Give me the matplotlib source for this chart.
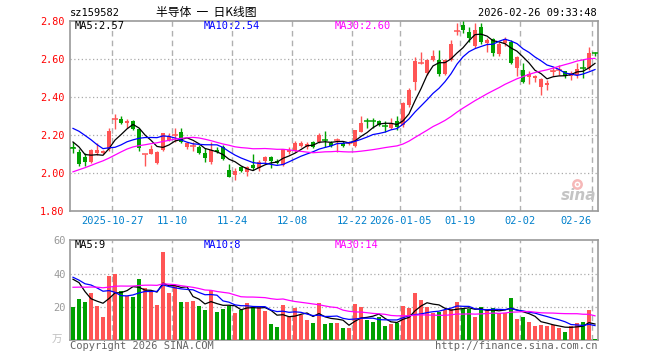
import numpy as np
import pandas as pd
import matplotlib
matplotlib.use('Agg')
import matplotlib.pyplot as plt
from matplotlib.transforms import blended_transform_factory

# daily OHLC, 2025-10-16 .. 2026-02-26 (88 trading days)
opens = [2.136, 2.114, 2.087, 2.061, 2.105, 2.108, 2.126, 2.284, 2.286, 2.263,
         2.275, 2.231, 2.099, 2.102, 2.056, 2.123, 2.175, 2.201, 2.219, 2.137,
         2.144, 2.140, 2.105, 2.058, 2.123, 2.140, 2.017, 1.991, 2.031, 2.005,
         2.044, 2.030, 2.065, 2.087, 2.065, 2.044, 2.111, 2.119, 2.145, 2.140,
         2.163, 2.163, 2.176, 2.161, 2.174, 2.161, 2.159, 2.144, 2.220, 2.275,
         2.275, 2.274, 2.248, 2.238, 2.274, 2.256, 2.361, 2.479, 2.580, 2.528,
         2.595, 2.595, 2.524, 2.595, 2.749, 2.780, 2.745, 2.672, 2.772, 2.687,
         2.705, 2.630, 2.684, 2.693, 2.553, 2.544, 2.508, 2.500, 2.453, 2.465,
         2.534, 2.543, 2.538, 2.512, 2.517, 2.554, 2.553, 2.633]
closes = [2.134, 2.049, 2.061, 2.123, 2.123, 2.118, 2.224, 2.286, 2.266, 2.275,
          2.235, 2.131, 2.101, 2.126, 2.114, 2.210, 2.196, 2.203, 2.166, 2.158,
          2.146, 2.105, 2.079, 2.123, 2.111, 2.075, 1.982, 2.014, 2.014, 2.035,
          2.026, 2.061, 2.087, 2.065, 2.055, 2.126, 2.123, 2.161, 2.161, 2.154,
          2.140, 2.200, 2.175, 2.145, 2.175, 2.144, 2.160, 2.228, 2.265, 2.274,
          2.274, 2.256, 2.247, 2.265, 2.242, 2.370, 2.440, 2.593, 2.582, 2.595,
          2.616, 2.524, 2.595, 2.680, 2.751, 2.754, 2.710, 2.754, 2.693, 2.700,
          2.632, 2.680, 2.705, 2.582, 2.614, 2.482, 2.522, 2.510, 2.495, 2.477,
          2.536, 2.545, 2.514, 2.526, 2.547, 2.553, 2.635, 2.632]
highs = [2.166, 2.126, 2.105, 2.130, 2.158, 2.125, 2.237, 2.312, 2.300, 2.286,
         2.280, 2.240, 2.102, 2.149, 2.120, 2.213, 2.213, 2.237, 2.237, 2.165,
         2.163, 2.150, 2.132, 2.166, 2.140, 2.150, 2.050, 2.026, 2.040, 2.040,
         2.100, 2.070, 2.090, 2.090, 2.075, 2.130, 2.140, 2.170, 2.170, 2.166,
         2.170, 2.210, 2.223, 2.170, 2.186, 2.170, 2.170, 2.230, 2.300, 2.290,
         2.290, 2.280, 2.274, 2.290, 2.300, 2.375, 2.450, 2.610, 2.640, 2.600,
         2.650, 2.650, 2.600, 2.700, 2.790, 2.800, 2.770, 2.790, 2.790, 2.710,
         2.710, 2.690, 2.720, 2.700, 2.620, 2.580, 2.540, 2.520, 2.500, 2.490,
         2.560, 2.570, 2.540, 2.540, 2.580, 2.600, 2.666, 2.640]
lows = [2.105, 2.040, 2.040, 2.055, 2.096, 2.100, 2.120, 2.233, 2.260, 2.237,
        2.230, 2.120, 2.040, 2.100, 2.050, 2.115, 2.170, 2.166, 2.160, 2.130,
        2.117, 2.100, 2.061, 2.050, 2.105, 2.070, 1.978, 1.965, 2.005, 1.985,
        2.020, 2.010, 2.050, 2.030, 2.050, 2.040, 2.100, 2.110, 2.140, 2.130,
        2.135, 2.160, 2.140, 2.140, 2.114, 2.140, 2.150, 2.140, 2.215, 2.240,
        2.240, 2.250, 2.220, 2.235, 2.230, 2.245, 2.350, 2.440, 2.575, 2.520,
        2.590, 2.510, 2.520, 2.590, 2.730, 2.740, 2.690, 2.660, 2.680, 2.640,
        2.620, 2.620, 2.670, 2.575, 2.510, 2.475, 2.470, 2.480, 2.410, 2.440,
        2.510, 2.520, 2.500, 2.490, 2.500, 2.500, 2.545, 2.615]
# volume (万手)
vols = [20.2, 24.8, 23.2, 28.6, 20.6, 14.0, 38.8, 40.0, 29.6, 26.6,
        26.0, 36.8, 31.6, 29.0, 21.2, 53.0, 28.6, 32.6, 23.2, 23.2,
        23.8, 20.6, 18.2, 30.2, 17.2, 18.8, 20.8, 16.6, 18.2, 22.6,
        19.8, 19.8, 17.8, 9.8, 8.2, 21.2, 13.8, 19.6, 15.2, 12.2,
        10.6, 22.6, 9.8, 10.4, 10.2, 7.4, 7.4, 21.8, 20.0, 12.2,
        11.0, 13.8, 8.6, 9.8, 10.2, 20.6, 19.4, 28.4, 24.2, 20.0,
        16.6, 17.0, 18.2, 18.5, 23.0, 18.6, 19.0, 14.0, 20.0, 18.2,
        19.6, 16.6, 16.6, 25.4, 12.8, 14.2, 11.0, 8.6, 9.2, 8.6,
        9.2, 7.4, 5.0, 8.6, 10.2, 11.0, 18.2, 0.8]

# earlier days (off chart), only needed to warm up the moving averages
pre_close = [1.72, 1.74, 1.76, 1.75, 1.77, 1.79, 1.80, 1.78, 1.82,
             1.90, 1.93, 1.96, 1.95, 1.98, 2.00, 2.02, 2.01, 2.04, 2.07, 2.08,
             2.20, 2.28, 2.35, 2.38, 2.33, 2.18, 2.26, 2.14, 2.11]
pre_vol = [22, 24, 26, 23, 25, 27, 24, 26, 28, 25, 27, 26, 28, 25, 25,
           36, 40, 42, 38, 39, 42, 45, 36, 38, 34, 35, 50, 50, 28]

tick_idx = [7, 17, 27, 37, 47, 55, 65, 75, 87]
tick_lab = ['2025-10-27', '11-10', '11-24', '12-08', '12-22', '2026-01-05',
            '01-19', '02-02', '02-26']
price_ticks = [1.80, 2.00, 2.20, 2.40, 2.60, 2.80]
vol_ticks = [20, 40, 60]
ma_price_txt = ['MA5:2.57', 'MA10:2.54', 'MA30:2.60']
ma_vol_txt = ['MA5:9', 'MA10:8', 'MA30:14']

RED = '#ff5555'
GREEN = '#00a000'
MA_COLORS = ['black', '#0000ff', '#ff00ff']
MONO = 'DejaVu Sans Mono'

W, H = 660, 360
fig = plt.figure(figsize=(W / 100, H / 100), dpi=100)


def px_axes(x0, y0, x1, y1):
    return fig.add_axes([x0 / W, 1 - y1 / H, (x1 - x0) / W, (y1 - y0) / H])


n = len(closes)
x = np.arange(n)
o = np.array(opens)
c = np.array(closes)
up = c >= o
cols = np.where(up, RED, GREEN)

full_c = pd.Series(pre_close + closes)
full_v = pd.Series(pre_vol + vols)
npre = len(pre_close)
ma_p = [full_c.rolling(k).mean().values[npre:] for k in (5, 10, 30)]
ma_v = [full_v.rolling(k).mean().values[npre:] for k in (5, 10, 30)]

ax = px_axes(70, 21.3, 598, 211.3)
av = px_axes(70, 240.3, 598, 340.3)

for a in (ax, av):
    a.set_xlim(-0.5, n - 0.5)
    for s in a.spines.values():
        s.set_color('#9a9a9a')
        s.set_linewidth(1.2)
    a.tick_params(axis='both', length=0)
    a.set_xticks([])
    for t in tick_idx:
        a.axvline(t - 0.45, color='#b0b0b0', lw=1, ls=(0, (4, 3)), zorder=1)

# price panel
ax.set_ylim(1.80, 2.80)
for p in price_ticks[1:-1]:
    ax.axhline(p, color='#aaaaaa', lw=0.9, ls=(0, (1, 2)), zorder=1)
ax.set_yticks(price_ticks)
ax.set_yticklabels(['%.2f' % p for p in price_ticks], color='red',
                   fontsize=7.3, family=MONO)
ax.tick_params(axis='y', pad=4)

ax.vlines(x, lows, highs, colors=cols, lw=1, zorder=3)
body = np.abs(c - o)
ax.bar(x, np.maximum(body, 0.0001), bottom=np.minimum(o, c), width=0.8,
       color=cols, zorder=4, linewidth=0)
doji = body < 0.004
ax.hlines(c[doji], x[doji] - 0.45, x[doji] + 0.45, colors=cols[doji],
          lw=1.1, zorder=4)
for m, col in zip(ma_p, MA_COLORS):
    ax.plot(x, m, color=col, lw=0.9, zorder=5)

for txt, xp, col in zip(ma_price_txt, (75, 204, 335), MA_COLORS):
    fig.text(xp / W, 1 - 26 / H, txt, color=col, fontsize=7.5, family=MONO,
             va='center', ha='left')

# dates under price panel
tr = blended_transform_factory(ax.transData, fig.transFigure)
for t, lab in zip(tick_idx, tick_lab):
    ha = 'right' if t == n - 1 else 'center'
    xx = t - 0.45 if t != n - 1 else t - 0.6
    ax.text(xx, 1 - 221.5 / H, lab, transform=tr, ha=ha, va='center',
            color='#0080cc', fontsize=7.5, family=MONO)

# sina watermark
ax.text(0.997, 0.045, 'sina', transform=ax.transAxes, ha='right', va='bottom',
        fontsize=11, fontweight='bold', style='italic', color='#c4c4c4', zorder=2)
ax.plot([84.0], [1.945], 'o', ms=6, mfc='none', mec='#f6b8b8', mew=1.8, zorder=2)
ax.plot([84.0], [1.945], 'o', ms=2, mfc='#f6b8b8', mec='none', zorder=2)

# volume panel
av.set_ylim(0, 60)
for v in vol_ticks[:-1]:
    av.axhline(v, color='#aaaaaa', lw=0.9, ls=(0, (1, 2)), zorder=1)
av.set_yticks(vol_ticks)
av.set_yticklabels([str(v) for v in vol_ticks], color='#999999',
                   fontsize=7.5, family=MONO)
av.tick_params(axis='y', pad=3)
av.bar(x, vols, width=0.83, color=cols, linewidth=0, zorder=3)
for m, col in zip(ma_v, MA_COLORS):
    av.plot(x, m, color=col, lw=0.9, zorder=5)
for txt, xp, col in zip(ma_vol_txt, (75, 204, 335), MA_COLORS):
    fig.text(xp / W, 1 - 245.5 / H, txt, color=col, fontsize=7.5, family=MONO,
             va='center', ha='left')
fig.text(57 / W, 1 - 340 / H, '万', color='#c0c0c0', fontsize=7.5,
         family=['Noto Sans CJK SC', 'DejaVu Sans'], va='center', ha='center')

# header and footer
fig.text(70 / W, 1 - 13 / H, 'sz159582', fontsize=7.5, family=MONO,
         va='center', ha='left')
fig.text(206 / W, 1 - 12.5 / H, '半导体  一  日K线图', fontsize=8.5,
         family=['Noto Sans CJK SC', 'DejaVu Sans'], va='center', ha='center')
fig.text(597 / W, 1 - 13 / H, '2026-02-26 09:33:48', fontsize=7.5, family=MONO,
         va='center', ha='right')
fig.text(70 / W, 1 - 346 / H, 'Copyright 2026 SINA.COM', fontsize=7.5,
         family=MONO, color='#666666', va='center', ha='left')
fig.text(597 / W, 1 - 346 / H, 'http://finance.sina.com.cn', fontsize=7.5,
         family=MONO, color='#666666', va='center', ha='right')

fig.savefig('out.png', dpi=100, facecolor='white')
